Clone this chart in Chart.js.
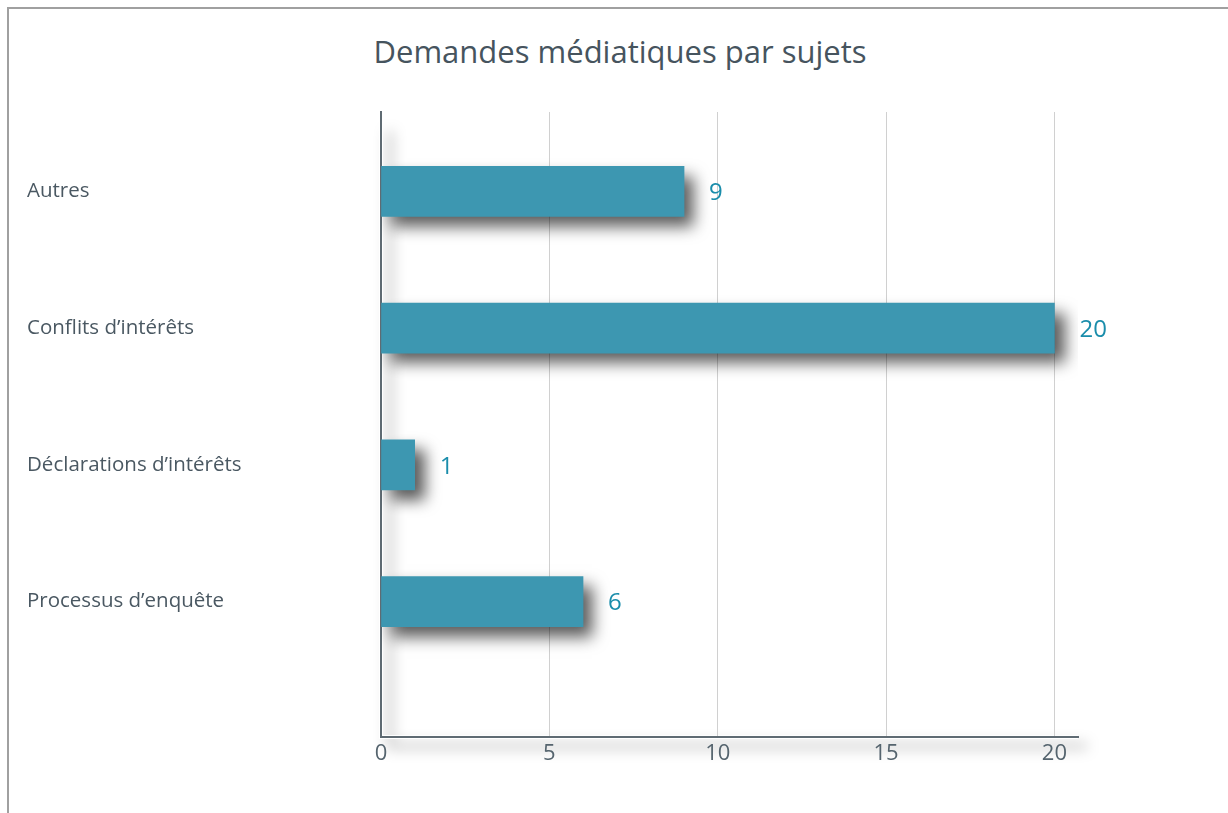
<!DOCTYPE html>
<html>
<head>
<meta charset="utf-8">
<script src="https://cdn.jsdelivr.net/npm/chart.js@4/dist/chart.umd.min.js"></script>
<style>
  html, body { margin: 0; padding: 0; background: #fff; }
  #wrap { position: relative; width: 1228px; height: 813px; overflow: hidden; }
  #cadre { position: absolute; left: 7px; top: 7px; right: -10px; bottom: -10px;
           border-top: 2px solid #a0a0a0; border-left: 2px solid #a0a0a0; }
  #titre { position: absolute; left: 0; top: 30px; width: 1240px; text-align: center;
           font-family: "Open Sans", sans-serif; font-size: 31px; color: #46545e; }
  canvas { position: absolute; left: 0; top: 0; }
</style>
</head>
<body>
<div id="wrap">
  <div id="cadre"></div>
  <div id="titre">Demandes médiatiques par sujets</div>
  <canvas id="chartSujets" width="1228" height="813"></canvas>
</div>
<script>
// données
const sujets = ['Autres', 'Conflits d’intérêts', 'Déclarations d’intérêts', 'Processus d’enquête'];
const demandes = [9, 20, 1, 6];
const ticksX = [0, 5, 10, 15, 20];

const ombreBarres = {
    id: 'ombreBarres',
    beforeDraw(chart) {
        // ombre légère derrière les axes
        const { ctx, chartArea: a } = chart;
        ctx.save();
        ctx.strokeStyle = '#ffffff';
        ctx.lineWidth = 4;
        ctx.shadowColor = 'rgba(0,0,0,0.35)';
        ctx.shadowBlur = 14;
        ctx.shadowOffsetX = 9;
        ctx.shadowOffsetY = 9;
        ctx.beginPath();
        ctx.moveTo(a.left, a.top + 10);
        ctx.lineTo(a.left, a.bottom);
        ctx.lineTo(a.right, a.bottom);
        ctx.stroke();
        ctx.restore();
    },
    beforeDatasetsDraw(chart) {
        const ctx = chart.ctx;
        ctx.save();
        ctx.shadowColor = 'rgba(0,0,0,0.65)';
        ctx.shadowBlur = 15;
        ctx.shadowOffsetX = 10;
        ctx.shadowOffsetY = 10;
    },
    afterDatasetsDraw(chart) {
        const ctx = chart.ctx;
        ctx.restore();
        // valeurs au bout des barres
        const meta = chart.getDatasetMeta(0);
        ctx.save();
        ctx.font = '24px "Open Sans", sans-serif';
        ctx.fillStyle = '#1a8dab';
        ctx.textAlign = 'left';
        ctx.textBaseline = 'middle';
        meta.data.forEach((bar, i) => {
            ctx.fillText(String(demandes[i]), bar.x + 25, bar.y + 2);
        });
        ctx.restore();
    }
};

const ctxSujets = document.getElementById('chartSujets');

new Chart(ctxSujets, {
    type: 'bar',
    data: {
        datasets: [{
            label: 'Demandes',
            data: demandes.map((v, i) => ({ x: v, y: i })),
            backgroundColor: '#3d97b1',
            borderWidth: 0,
            barThickness: 50
        }]
    },
    options: {
        indexAxis: 'y',
        responsive: false,
        animation: false,
        layout: { padding: { left: 27, right: 150, top: 112, bottom: 0 } },
        plugins: {
            legend: { display: false },
            tooltip: { enabled: false },
            title: { display: false }
        },
        scales: {
            x: {
                type: 'linear',
                min: 0,
                max: 20.7,
                afterBuildTicks: (s) => { s.ticks = ticksX.map(v => ({ value: v })); },
                afterFit: (s) => { s.height = 76; },
                grid: {
                    color: (c) => c.tick && c.tick.value === 0 ? 'rgba(0,0,0,0)' : '#d0d0d0',
                    lineWidth: 1,
                    drawTicks: false
                },
                border: { color: '#5f6b73', width: 2 },
                ticks: {
                    padding: 4,
                    color: '#55646e',
                    font: { family: 'Open Sans', size: 22 }
                }
            },
            y: {
                type: 'linear',
                reverse: true,
                offset: false,
                min: -0.58,
                max: 3.99,
                afterBuildTicks: (s) => { s.ticks = sujets.map((_, i) => ({ value: i })); },
                afterFit: (s) => { s.width = 354; },
                grid: { display: false, drawTicks: false, offset: false },
                border: { color: '#5f6b73', width: 2 },
                ticks: {
                    crossAlign: 'far',
                    color: '#4a5862',
                    font: { family: 'Open Sans', size: 20.5 },
                    callback: (v) => sujets[v] ?? ''
                }
            }
        }
    },
    plugins: [ombreBarres]
});
</script>
</body>
</html>
